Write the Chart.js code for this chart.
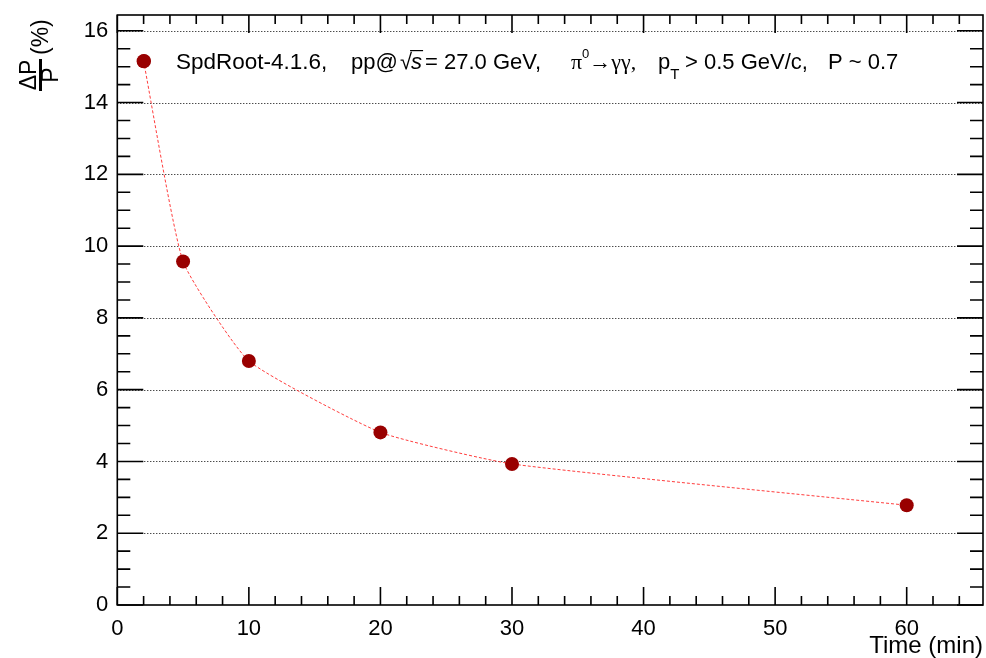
<!DOCTYPE html>
<html>
<head>
<meta charset="utf-8">
<script src="https://cdn.jsdelivr.net/npm/chart.js@4/dist/chart.umd.min.js"></script>
<style>
  html, body { margin: 0; padding: 0; background: #fff; }
  #wrap { width: 986px; height: 658px; }
</style>
</head>
<body>
<div id="wrap"><canvas id="c" width="986" height="658"></canvas></div>
<script>
// Polarization uncertainty vs. accumulated data-taking time
const times = [2, 5, 10, 20, 30, 60];              // min
const dPoverP = [15.15, 9.57, 6.80, 4.81, 3.93, 2.78]; // %
const xTickValues = [0, 10, 20, 30, 40, 50, 60];
const yTickValues = [0, 2, 4, 6, 8, 10, 12, 14, 16];
const xRange = [0, 65.8];
const yRange = [0, 16.44];

const FONT = '"Liberation Sans", Arial, Helvetica, sans-serif';
const SERIF = '"Liberation Serif", "Times New Roman", serif';

// Frame, inward ticks, dotted horizontal grid and axis titles in ROOT style
const frameAxes = {
  id: 'frameAxes',
  beforeDatasetsDraw(chart) {
    const { ctx, chartArea: a, scales: { x, y } } = chart;
    ctx.save();
    ctx.strokeStyle = '#000';
    ctx.lineWidth = 1;
    ctx.setLineDash([1, 2]);
    yTickValues.forEach(v => {
      if (v === 0) return;
      const py = Math.round(y.getPixelForValue(v)) + 0.5;
      ctx.beginPath(); ctx.moveTo(a.left, py); ctx.lineTo(a.right, py); ctx.stroke();
    });
    ctx.setLineDash([]);
    ctx.lineWidth = 1.6;
    ctx.strokeRect(a.left, a.top, a.right - a.left, a.bottom - a.top);
    // y ticks (major every 2, minor every 0.5), left and right
    for (let v = 0; v <= yRange[1] + 1e-9; v += 0.5) {
      const major = Math.abs(v / 2 - Math.round(v / 2)) < 1e-9;
      const len = major ? 26 : 13;
      const py = y.getPixelForValue(v);
      ctx.beginPath();
      ctx.moveTo(a.left, py); ctx.lineTo(a.left + len, py);
      ctx.moveTo(a.right, py); ctx.lineTo(a.right - len, py);
      ctx.stroke();
    }
    // x ticks (major every 10, minor every 2), bottom and top
    for (let v = 0; v <= xRange[1] + 1e-9; v += 2) {
      const major = v % 10 === 0;
      const len = major ? 18 : 9;
      const px = x.getPixelForValue(v);
      ctx.beginPath();
      ctx.moveTo(px, a.bottom); ctx.lineTo(px, a.bottom - len);
      ctx.moveTo(px, a.top); ctx.lineTo(px, a.top + len);
      ctx.stroke();
    }
    ctx.restore();
  },
  afterDraw(chart) {
    const { ctx, chartArea: a } = chart;
    ctx.save();
    ctx.fillStyle = '#000';
    // x title
    ctx.font = '24px ' + FONT;
    ctx.textAlign = 'right';
    ctx.textBaseline = 'alphabetic';
    ctx.fillText('Time (min)', a.right, 653);
    // y title: fraction ΔP / P followed by (%)
    ctx.rotate(-Math.PI / 2);
    ctx.font = '23px ' + FONT;
    ctx.textAlign = 'center';
    ctx.textBaseline = 'alphabetic';
    ctx.fillText('\u0394P', -75, 36);
    ctx.fillText('P', -75, 58);
    ctx.fillRect(-91, 39, 32, 3);
    ctx.font = '23px ' + FONT;
    ctx.textAlign = 'left';
    ctx.fillText('(%)', -55, 48);
    ctx.restore();
  }
};

// Legend entry with the run label
const legendBox = {
  id: 'legendBox',
  afterDraw(chart) {
    const { ctx } = chart;
    const cy = 61, base = 69;
    ctx.save();
    ctx.fillStyle = '#990000';
    ctx.beginPath(); ctx.arc(144, cy, 7, 0, Math.PI * 2); ctx.fill();
    ctx.fillStyle = '#000';
    ctx.textBaseline = 'alphabetic';
    ctx.textAlign = 'left';
    const f = '22px ' + FONT;
    ctx.font = '22.5px ' + FONT;
    ctx.fillText('SpdRoot-4.1.6,', 176, base);
    ctx.font = f;
    ctx.fillText('pp@', 351, base);
    // square root of s
    let xx = 400;
    ctx.fillText('\u221A', xx, base);
    xx += ctx.measureText('\u221A').width - 1;
    ctx.font = 'italic 22px ' + FONT;
    const sW = ctx.measureText('s').width;
    ctx.fillText('s', xx, base);
    ctx.fillRect(xx - 1, base - 19, sW + 2, 1.2);
    ctx.font = f;
    ctx.fillText('= 27.0 GeV,', 425, base);
    // pi0 -> gamma gamma
    xx = 571;
    ctx.font = '22px ' + SERIF;
    ctx.fillText('\u03C0', xx, base);
    xx += ctx.measureText('\u03C0').width;
    ctx.font = '13px ' + FONT;
    ctx.fillText('0', xx, base - 11);
    xx += ctx.measureText('0').width;
    ctx.font = '22px ' + SERIF;
    ctx.fillText('\u2192\u03B3\u03B3,', xx, base);
    // pT cut
    xx = 658;
    ctx.font = f;
    ctx.fillText('p', xx, base);
    xx += ctx.measureText('p').width;
    ctx.font = '15px ' + FONT;
    ctx.fillText('T', xx, base + 10);
    ctx.font = f;
    ctx.fillText('> 0.5 GeV/c,', 685, base);
    ctx.fillText('P ~ 0.7', 828, base);
    ctx.restore();
  }
};

function clearScalePadding(s) {
  s.paddingTop = 0; s.paddingBottom = 0; s.paddingLeft = 0; s.paddingRight = 0;
}

new Chart(document.getElementById('c'), {
  type: 'line',
  data: {
    datasets: [{
      label: 'SpdRoot-4.1.6',
      data: times.map((t, i) => ({ x: t, y: dPoverP[i] })),
      borderColor: 'rgba(255, 40, 40, 0.9)',
      borderWidth: 1,
      borderDash: [3, 2],
      tension: 0.15,
      pointBackgroundColor: '#990000',
      pointBorderColor: '#990000',
      pointRadius: 7,
      pointBorderWidth: 0,
      fill: false
    }]
  },
  options: {
    responsive: false,
    animation: false,
    layout: { autoPadding: false, padding: { left: 0, right: 3, top: 15, bottom: 0 } },
    plugins: { legend: { display: false }, tooltip: { enabled: false } },
    scales: {
      x: {
        type: 'linear',
        min: xRange[0], max: xRange[1],
        afterBuildTicks: s => { s.ticks = xTickValues.map(v => ({ value: v })); },
        afterFit: s => { s.height = 53; clearScalePadding(s); },
        grid: { display: false, drawTicks: false },
        border: { display: false },
        ticks: { color: '#000', font: { family: FONT, size: 22 }, padding: 11, maxRotation: 0 }
      },
      y: {
        type: 'linear',
        min: yRange[0], max: yRange[1],
        afterBuildTicks: s => { s.ticks = yTickValues.map(v => ({ value: v })); },
        afterFit: s => { s.width = 117.3; clearScalePadding(s); },
        grid: { display: false, drawTicks: false },
        border: { display: false },
        ticks: { color: '#000', font: { family: FONT, size: 22 }, padding: 9 }
      }
    }
  },
  plugins: [frameAxes, legendBox]
});
</script>
</body>
</html>
